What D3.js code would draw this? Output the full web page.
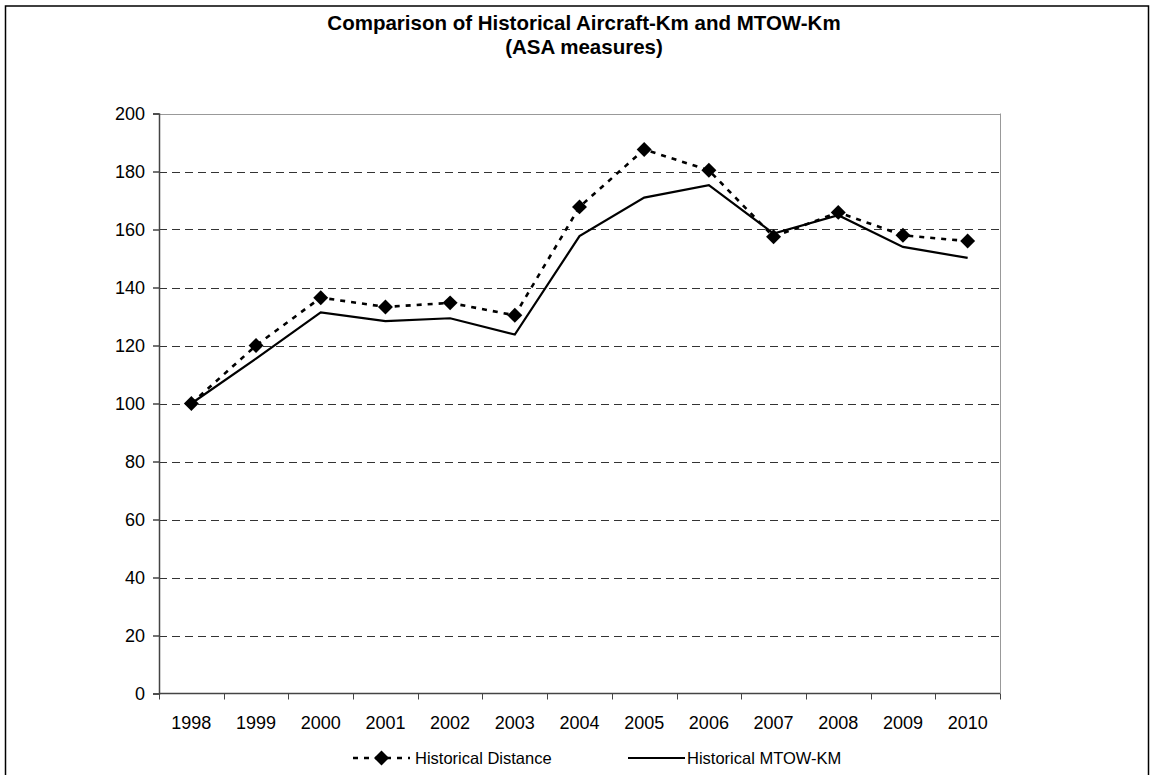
<!DOCTYPE html>
<html>
<head>
<meta charset="utf-8">
<script src="https://cdn.jsdelivr.net/npm/d3@7"></script>
<style>
  body { margin: 0; background: #fff; }
  text { font-family: Arial, "Liberation Sans", sans-serif; }
</style>
</head>
<body>
<svg width="1152" height="775"></svg>
<script>
var years = ["1998", "1999", "2000", "2001", "2002", "2003", "2004", "2005", "2006", "2007", "2008", "2009", "2010"];
var distance = [100, 120, 136.5, 133.3, 134.7, 130.4, 167.8, 187.6, 180.4, 157.5, 165.9, 158.0, 156.0];
var mtowKm = [100, 115.5, 131.4, 128.4, 129.4, 123.8, 157.7, 171.0, 175.3, 158.6, 164.9, 154.0, 150.2];
var yTicks = [0, 20, 40, 60, 80, 100, 120, 140, 160, 180, 200];
var titleLines = ["Comparison of Historical Aircraft-Km and MTOW-Km", "(ASA measures)"];
var legendNames = ["Historical Distance", "Historical MTOW-KM"];

var svg = d3.select("svg");

// note: "top" is a reserved window global, so prefix these
var plotLeft = 159, plotRight = 1000, plotTop = 113.5, plotBottom = 693.5;

var x = d3.scaleBand().domain(years).range([plotLeft, plotRight]);
var y = d3.scaleLinear().domain([0, 200]).range([plotBottom, plotTop]);

// outer frame
svg.append("rect")
    .attr("x", 5.5).attr("y", 6)
    .attr("width", 1143).attr("height", 780)
    .attr("fill", "none").attr("stroke", "#000").attr("stroke-width", 1.5);

// title
svg.append("g").selectAll("text")
    .data(titleLines)
  .enter().append("text")
    .attr("x", 584)
    .attr("y", function(d, i) { return 30 + i * 24; })
    .attr("text-anchor", "middle")
    .attr("font-size", 20.5)
    .attr("font-weight", "bold")
    .text(function(d) { return d; });

// gridlines
svg.append("g").selectAll("line")
    .data(yTicks.filter(function(d) { return d > 0; }))
  .enter().append("line")
    .attr("x1", plotLeft).attr("x2", plotRight)
    .attr("y1", function(d) { return Math.round(y(d)) + 0.5; })
    .attr("y2", function(d) { return Math.round(y(d)) + 0.5; })
    .attr("stroke", function(d) { return d == 200 ? "#999" : "#333"; })
    .attr("stroke-dasharray", function(d) { return d == 200 ? null : "8,5"; });

// right border of plot area
svg.append("line")
    .attr("x1", plotRight + 0.5).attr("x2", plotRight + 0.5)
    .attr("y1", plotTop).attr("y2", plotBottom)
    .attr("stroke", "#999");

// y axis
var yAxis = svg.append("g")
    .attr("transform", "translate(" + plotLeft + ",0)")
    .call(d3.axisLeft(y).tickValues(yTicks).tickSize(6).tickPadding(8));
yAxis.selectAll("text").attr("font-size", 18).attr("fill", "#000").attr("font-family", "Arial, 'Liberation Sans', sans-serif");
yAxis.selectAll("line, path").attr("stroke", "#444").attr("stroke-width", 1.5);

// x axis, ticks at category boundaries
var xAxis = svg.append("g")
    .attr("transform", "translate(0," + plotBottom + ")");
xAxis.append("line")
    .attr("x1", plotLeft).attr("x2", plotRight)
    .attr("stroke", "#444").attr("stroke-width", 1.5);
xAxis.selectAll(".tk")
    .data(years.concat(["end"]))
  .enter().append("line")
    .attr("class", "tk")
    .attr("x1", function(d, i) { return Math.round(plotLeft + i * x.bandwidth()) + 0.5; })
    .attr("x2", function(d, i) { return Math.round(plotLeft + i * x.bandwidth()) + 0.5; })
    .attr("y1", 0).attr("y2", 6)
    .attr("stroke", "#444");
xAxis.selectAll(".lbl")
    .data(years)
  .enter().append("text")
    .attr("class", "lbl")
    .attr("x", function(d) { return x(d) + x.bandwidth() / 2; })
    .attr("y", 35)
    .attr("text-anchor", "middle")
    .attr("font-size", 18)
    .text(function(d) { return d; });

var line = d3.line()
    .x(function(d, i) { return x(years[i]) + x.bandwidth() / 2; })
    .y(function(d) { return y(d); });

// MTOW series (solid)
svg.append("path")
    .datum(mtowKm)
    .attr("d", line)
    .attr("fill", "none")
    .attr("stroke", "#000")
    .attr("stroke-width", 2.2);

// Distance series (dashed + diamonds)
svg.append("path")
    .datum(distance)
    .attr("d", line)
    .attr("fill", "none")
    .attr("stroke", "#000")
    .attr("stroke-width", 2.6)
    .attr("stroke-dasharray", "5,6");

var diamond = d3.symbol().type(d3.symbolSquare).size(112);

svg.append("g").selectAll("path")
    .data(distance)
  .enter().append("path")
    .attr("d", diamond)
    .attr("transform", function(d, i) {
      return "translate(" + (x(years[i]) + x.bandwidth() / 2) + "," + y(d) + ") rotate(45)";
    })
    .attr("fill", "#000");

// legend
var legend = svg.append("g");
legend.append("line")
    .attr("x1", 353).attr("x2", 410)
    .attr("y1", 758).attr("y2", 758)
    .attr("stroke", "#000").attr("stroke-width", 2.6)
    .attr("stroke-dasharray", "5,6");
legend.append("path")
    .attr("d", diamond)
    .attr("transform", "translate(381.5,758) rotate(45)")
    .attr("fill", "#000");
legend.append("line")
    .attr("x1", 628).attr("x2", 685)
    .attr("y1", 758).attr("y2", 758)
    .attr("stroke", "#000").attr("stroke-width", 2.2);
legend.selectAll("text")
    .data(legendNames)
  .enter().append("text")
    .attr("x", function(d, i) { return i == 0 ? 415 : 687; })
    .attr("y", 764)
    .attr("font-size", 16.5)
    .text(function(d) { return d; });
</script>
</body>
</html>
